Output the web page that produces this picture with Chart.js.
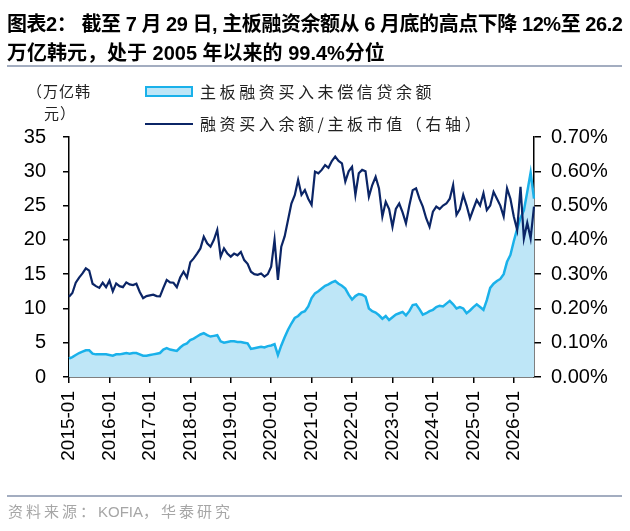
<!DOCTYPE html>
<html>
<head>
<meta charset="utf-8">
<script src="https://cdn.jsdelivr.net/npm/chart.js@4.4.1/dist/chart.umd.min.js"></script>
<style>
  body { margin: 0; background: #fff; }
  #page { position: relative; width: 630px; height: 531px; overflow: hidden; font-family: "Liberation Sans", "Noto Sans CJK SC", sans-serif; }
  #wrap { position: absolute; left: 0; top: 0; width: 630px; height: 531px; }
  .abs { position: absolute; white-space: nowrap; }
  .title { font-size: 20px; font-weight: bold; line-height: 24px; color: #000; }
  .sep { position: absolute; left: 7px; width: 615px; height: 2px; background: #a3adc0; }
  .leg { font-family: "Noto Sans CJK SC", sans-serif; font-size: 16px; line-height: 20px; letter-spacing: 3.6px; color: #222; }
  .unit { font-family: "Noto Sans CJK SC", sans-serif; font-size: 15px; line-height: 20px; letter-spacing: 1px; color: #222; }
  .src { font-size: 15px; line-height: 20px; color: #a6a6a6; }
  .src .cj { letter-spacing: 3px; }
</style>
</head>
<body>
<div id="page">
  <div id="wrap"><canvas id="chart"></canvas></div>
  <div class="abs title" style="left:7px;top:12px;letter-spacing:-0.45px">图表2： 截至 7 月 29 日, 主板融资余额从 6 月底的高点下降 12%至 26.2</div>
  <div class="abs title" style="left:7px;top:41px">万亿韩元，处于 2005 年以来的 99.4%分位</div>
  <div class="sep" style="top:65px"></div>

  <div class="abs unit" style="left:27px;top:81px">（万亿韩</div>
  <div class="abs unit" style="left:44px;top:103px">元）</div>

  <div class="abs" style="left:145px;top:86px;width:48px;height:11px;box-sizing:border-box;border:2px solid #1ab1ea;background:#bee6f7"></div>
  <div class="abs leg" style="left:200px;top:81px">主板融资买入未偿信贷余额</div>
  <div class="abs" style="left:145px;top:123px;width:48px;height:2px;background:#0b2566"></div>
  <div class="abs leg" style="left:200px;top:113px">融资买入余额/主板市值（右轴）</div>

  <div class="sep" style="top:495px"></div>
  <div class="abs src" style="left:8px;top:502px"><span class="cj">资料来源：</span>KOFIA<span class="cj">，华泰研究</span></div>
</div>
<script>
// monthly, 2015-01 .. 2026-07
const years = [2015, 2016, 2017, 2018, 2019, 2020, 2021, 2022, 2023, 2024, 2025, 2026];
const lastMonth = 7;

// 主板融资买入未偿信贷余额, 万亿韩元 (left axis)
const creditBal = [
  2.7, 2.9, 3.2, 3.5, 3.7, 3.9, 3.9, 3.4, 3.3, 3.3, 3.3, 3.3,
  3.2, 3.1, 3.3, 3.3, 3.4, 3.5, 3.4, 3.5, 3.5, 3.3, 3.1, 3.1,
  3.2, 3.3, 3.4, 3.5, 4.0, 4.2, 4.0, 3.9, 3.8, 4.3, 4.7, 4.9,
  5.4, 5.6, 5.9, 6.2, 6.4, 6.1, 5.9, 6.0, 6.1, 5.2, 5.0, 5.1,
  5.2, 5.2, 5.1, 5.1, 5.0, 4.9, 4.1, 4.2, 4.3, 4.4, 4.3, 4.5,
  4.6, 4.8, 3.2, 4.6, 5.8, 6.9, 7.8, 8.6, 8.9, 9.4, 9.6, 10.3,
  11.5, 12.2, 12.5, 12.9, 13.3, 13.5, 13.8, 14.0, 13.6, 13.3, 12.9, 12.0,
  11.3, 11.8, 12.1, 12.0, 11.7, 10.0, 9.6, 9.4, 9.0, 8.5, 8.9, 8.3,
  8.7, 9.1, 9.3, 9.5, 9.0, 9.6, 10.5, 10.6, 9.9, 9.1, 9.3, 9.6,
  9.8, 10.2, 10.4, 10.3, 10.7, 11.1, 10.6, 10.0, 10.2, 10.0, 9.3, 9.7,
  10.2, 10.6, 10.2, 9.8, 11.2, 13.0, 13.6, 14.0, 14.3, 15.0, 16.8, 17.8,
  19.8, 21.6, 23.2, 24.3, 27.0, 29.8, 26.0
];

// 融资买入余额/主板市值, % (right axis)
const marginRatio = [
  0.234, 0.245, 0.275, 0.29, 0.302, 0.317, 0.31, 0.272, 0.265, 0.26, 0.275, 0.262,
  0.281, 0.25, 0.273, 0.265, 0.262, 0.276, 0.27, 0.268, 0.272, 0.248, 0.23, 0.236,
  0.238, 0.24, 0.236, 0.235, 0.26, 0.283, 0.276, 0.275, 0.262, 0.29, 0.307, 0.29,
  0.335, 0.346, 0.36, 0.375, 0.409, 0.39, 0.38, 0.4, 0.429, 0.351, 0.375, 0.36,
  0.351, 0.36, 0.355, 0.365, 0.341, 0.33, 0.307, 0.3, 0.298, 0.302, 0.293, 0.3,
  0.322, 0.40, 0.283, 0.38, 0.41, 0.458, 0.506, 0.53, 0.575, 0.531, 0.545, 0.52,
  0.502, 0.599, 0.594, 0.604, 0.618, 0.61, 0.63, 0.643, 0.63, 0.623, 0.57, 0.6,
  0.613, 0.531, 0.594, 0.604, 0.6, 0.526, 0.56, 0.584, 0.55, 0.468, 0.511, 0.49,
  0.438, 0.49, 0.506, 0.48, 0.448, 0.5, 0.545, 0.55, 0.52, 0.497, 0.463, 0.438,
  0.482, 0.497, 0.49, 0.5, 0.506, 0.52, 0.56, 0.473, 0.49, 0.531, 0.5, 0.463,
  0.49, 0.516, 0.5, 0.536, 0.487, 0.5, 0.54, 0.52, 0.5, 0.468, 0.55, 0.52,
  0.468, 0.429, 0.555, 0.404, 0.45, 0.404, 0.497
];

const leftTicks = { min: 0, max: 35, step: 5 };
const rightTicks = { min: 0, max: 0.7, step: 0.1 };

const months = [];
years.forEach((y) => {
  const n = y === years[years.length - 1] ? lastMonth : 12;
  for (let m = 1; m <= n; m++) months.push(`${y}-${String(m).padStart(2, '0')}`);
});

const tickFont = { family: '"Liberation Sans", Arial, sans-serif', size: 20 };

new Chart(document.getElementById('chart'), {
  type: 'line',
  data: {
    labels: months,
    datasets: [
      {
        label: '融资买入余额/主板市值（右轴）',
        data: marginRatio,
        yAxisID: 'y1',
        borderColor: '#0b2566',
        borderWidth: 2.2,
        pointRadius: 0,
        fill: false,
        tension: 0
      },
      {
        label: '主板融资买入未偿信贷余额',
        data: creditBal,
        yAxisID: 'y',
        borderColor: '#1ab1ea',
        backgroundColor: '#bee6f7',
        borderWidth: 2.5,
        pointRadius: 0,
        fill: 'origin',
        tension: 0
      }
    ]
  },
  options: {
    responsive: true,
    maintainAspectRatio: false,
    animation: false,
    layout: { padding: { top: 137, left: 0, right: 0, bottom: 0 } },
    plugins: { legend: { display: false }, tooltip: { enabled: false } },
    scales: {
      x: {
        type: 'category',
        offset: false,
        border: { display: true, color: '#000', width: 1.5 },
        grid: { drawOnChartArea: false, drawTicks: true, tickLength: 6, color: '#000', lineWidth: 1.5 },
        ticks: {
          autoSkip: false,
          minRotation: 90,
          maxRotation: 90,
          padding: 8,
          color: '#000',
          font: { ...tickFont, size: 19 },
          callback: (v, i) => (months[i].endsWith('-01') ? months[i] : null)
        },
        afterFit: (s) => { s.height = 154; }
      },
      y: {
        position: 'left',
        min: leftTicks.min,
        max: leftTicks.max,
        border: { display: true, color: '#000', width: 1.5 },
        grid: { drawOnChartArea: false, drawTicks: true, tickLength: 6, color: '#000', lineWidth: 1.5 },
        ticks: { stepSize: leftTicks.step, padding: 17, color: '#000', font: tickFont },
        afterFit: (s) => { s.width = 69; }
      },
      y1: {
        position: 'right',
        min: rightTicks.min,
        max: rightTicks.max,
        border: { display: true, color: '#000', width: 1.5 },
        grid: { drawOnChartArea: false, drawTicks: true, tickLength: 7, color: '#000', lineWidth: 1.5 },
        ticks: {
          stepSize: rightTicks.step,
          padding: 10,
          color: '#000',
          font: tickFont,
          callback: (v) => v.toFixed(2) + '%'
        },
        afterFit: (s) => { s.width = 96; }
      }
    }
  }
});
</script>
</body>
</html>
